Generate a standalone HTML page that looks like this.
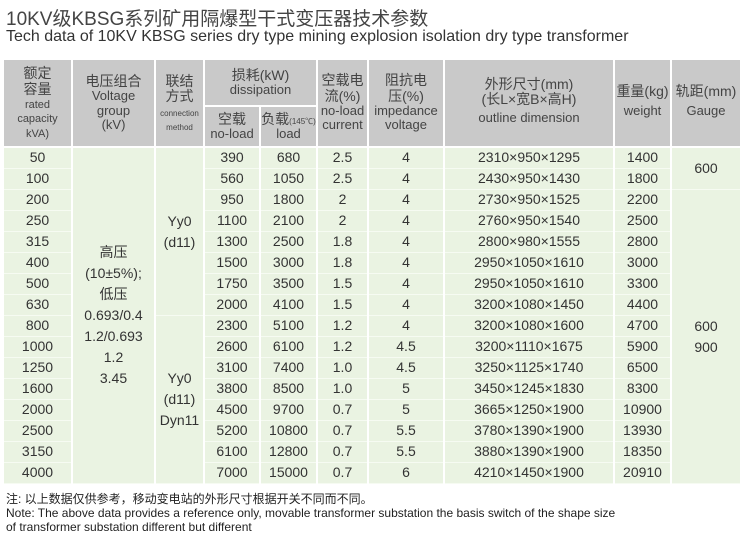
<!DOCTYPE html>
<html><head><meta charset="utf-8"><style>
body{margin:0;width:750px;height:542px;background:#fff;font-family:"Liberation Sans","Noto Sans CJK SC",sans-serif;color:#333;position:relative;overflow:hidden}
.t1{position:absolute;left:6px;top:4px;font-size:19px;color:#444;white-space:nowrap}
.t2{position:absolute;left:6px;top:28px;font-size:16px;color:#333;white-space:nowrap}
table{position:absolute;left:2px;top:58px;border-collapse:collapse;table-layout:fixed;width:738px}
td{text-align:center;padding:0;border:2px solid #fff;vertical-align:middle;line-height:1.1}
thead td{background:#c9c9c9;color:#444;font-size:13px}
.cn{font-size:14px}
.sm{font-size:11px}
tbody td{background:#eaf3e2;font-size:14px;height:20px;border-width:1px 2px;border-color:#f6fbf2 #fff}
.note{position:absolute;left:6px;top:492px;font-size:12px;line-height:14px;color:#222}
</style></head><body>
<div class="t1">10KV级KBSG系列矿用隔爆型干式变压器技术参数</div>
<div class="t2">Tech data of 10KV KBSG series dry type mining explosion isolation dry type transformer</div>
<table>
<colgroup><col style="width:69px"><col style="width:83px"><col style="width:49px"><col style="width:56px"><col style="width:57px"><col style="width:51px"><col style="width:76px"><col style="width:170px"><col style="width:57px"><col style="width:70px"></colgroup>
<thead>
<tr style="height:47px">
<td rowspan="2"><span class="cn">额定<br>容量</span><br><span class="sm">rated<br>capacity<br>kVA)</span></td>
<td rowspan="2" style="vertical-align:top;padding-top:14px"><span class="cn">电压组合</span><br>Voltage<br>group<br>(kV)</td>
<td rowspan="2" style="vertical-align:top;padding-top:14px"><span class="cn">联结<br>方式</span><br><span style="font-size:8px">connection<br>method</span></td>
<td colspan="2"><span class="cn">损耗(kW)</span><br>dissipation</td>
<td rowspan="2"><span class="cn">空载电<br>流(%)</span><br>no-load<br>current</td>
<td rowspan="2"><span class="cn">阻抗电<br>压(%)</span><br>impedance<br>voltage</td>
<td rowspan="2"><span class="cn">外形尺寸(mm)<br>(长L×宽B×高H)</span><br><span style="line-height:22px">outline dimension</span></td>
<td rowspan="2"><span class="cn">重量(kg)</span><br><span style="line-height:22px">weight</span></td>
<td rowspan="2"><span class="cn">轨距(mm)</span><br><span style="line-height:22px">Gauge</span></td>
</tr>
<tr style="height:41px">
<td><span class="cn">空载</span><br>no-load</td>
<td><span class="cn">负载</span><span style="font-size:8px">(145℃)</span><br>load</td>
</tr>
</thead>
<tbody>
<tr><td>50</td><td rowspan="16" style="line-height:21px">高压<br>(10±5%);<br>低压<br>0.693/0.4<br>1.2/0.693<br>1.2<br>3.45</td><td rowspan="8" style="line-height:21px">Yy0<br>(d11)</td><td>390</td><td>680</td><td>2.5</td><td>4</td><td>2310×950×1295</td><td>1400</td><td rowspan="2">600</td></tr>
<tr><td>100</td><td>560</td><td>1050</td><td>2.5</td><td>4</td><td>2430×950×1430</td><td>1800</td></tr>
<tr><td>200</td><td>950</td><td>1800</td><td>2</td><td>4</td><td>2730×950×1525</td><td>2200</td><td rowspan="14" style="line-height:21px">600<br>900</td></tr>
<tr><td>250</td><td>1100</td><td>2100</td><td>2</td><td>4</td><td>2760×950×1540</td><td>2500</td></tr>
<tr><td>315</td><td>1300</td><td>2500</td><td>1.8</td><td>4</td><td>2800×980×1555</td><td>2800</td></tr>
<tr><td>400</td><td>1500</td><td>3000</td><td>1.8</td><td>4</td><td>2950×1050×1610</td><td>3000</td></tr>
<tr><td>500</td><td>1750</td><td>3500</td><td>1.5</td><td>4</td><td>2950×1050×1610</td><td>3300</td></tr>
<tr><td>630</td><td>2000</td><td>4100</td><td>1.5</td><td>4</td><td>3200×1080×1450</td><td>4400</td></tr>
<tr><td>800</td><td rowspan="8" style="line-height:21px">Yy0<br>(d11)<br>Dyn11</td><td>2300</td><td>5100</td><td>1.2</td><td>4</td><td>3200×1080×1600</td><td>4700</td></tr>
<tr><td>1000</td><td>2600</td><td>6100</td><td>1.2</td><td>4.5</td><td>3200×1110×1675</td><td>5900</td></tr>
<tr><td>1250</td><td>3100</td><td>7400</td><td>1.0</td><td>4.5</td><td>3250×1125×1740</td><td>6500</td></tr>
<tr><td>1600</td><td>3800</td><td>8500</td><td>1.0</td><td>5</td><td>3450×1245×1830</td><td>8300</td></tr>
<tr><td>2000</td><td>4500</td><td>9700</td><td>0.7</td><td>5</td><td>3665×1250×1900</td><td>10900</td></tr>
<tr><td>2500</td><td>5200</td><td>10800</td><td>0.7</td><td>5.5</td><td>3780×1390×1900</td><td>13930</td></tr>
<tr><td>3150</td><td>6100</td><td>12800</td><td>0.7</td><td>5.5</td><td>3880×1390×1900</td><td>18350</td></tr>
<tr><td>4000</td><td>7000</td><td>15000</td><td>0.7</td><td>6</td><td>4210×1450×1900</td><td>20910</td></tr>
</tbody>
</table>
<div class="note">注: 以上数据仅供参考，移动变电站的外形尺寸根据开关不同而不同。<br>Note: The above data provides a reference only, movable transformer substation the basis switch of the shape size<br>of transformer substation different but different</div>
</body></html>
